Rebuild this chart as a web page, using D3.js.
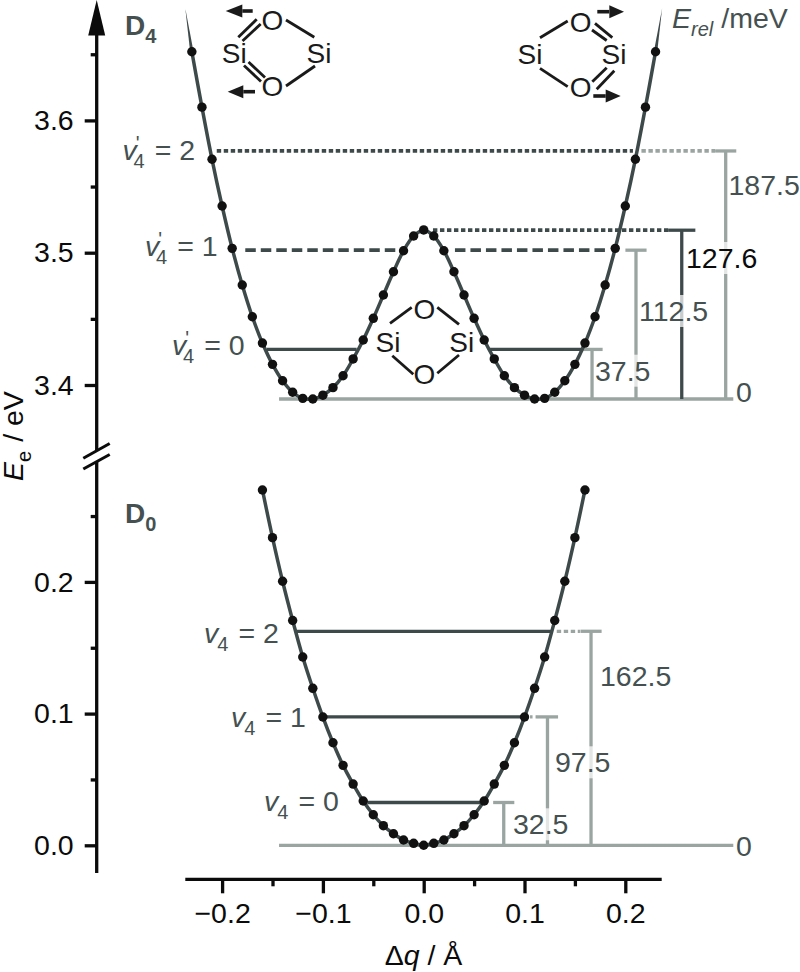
<!DOCTYPE html>
<html>
<head>
<meta charset="utf-8">
<style>
  html, body { margin: 0; padding: 0; background: #fff; }
  svg { display: block; }
  text { font-family: "Liberation Sans", Arial, sans-serif; }
</style>
<script src="https://cdn.jsdelivr.net/npm/d3@7/dist/d3.min.js"></script>
</head>
<body>
<svg id="chart" width="800" height="972"></svg>
<script>
// Displacement grid, Å, shared by both potential curves
const qD4 = [-0.23,-0.22,-0.21,-0.20,-0.19,-0.18,-0.17,-0.16,-0.15,-0.14,-0.13,-0.12,-0.11,-0.10,-0.09,-0.08,-0.07,-0.06,-0.05,-0.04,-0.03,-0.02,-0.01,0,
  0.01,0.02,0.03,0.04,0.05,0.06,0.07,0.08,0.09,0.10,0.11,0.12,0.13,0.14,0.15,0.16,0.17,0.18,0.19,0.20,0.21,0.22,0.23];
// Excited-state double well, eV
const eD4 = [3.6519,3.6100,3.5706,3.5353,3.5033,3.4756,3.4516,3.4317,3.4156,3.4032,3.3945,3.3899,3.3894,3.3923,3.3980,3.4070,3.4197,3.4340,3.4504,3.4680,3.4856,3.5015,3.5126,3.5172,
  3.5126,3.5015,3.4856,3.4680,3.4504,3.4340,3.4197,3.4070,3.3980,3.3923,3.3894,3.3899,3.3945,3.4032,3.4156,3.4317,3.4516,3.4756,3.5033,3.5353,3.5706,3.6100,3.6519];
// The D4 curve runs out to a fine point beyond the last sampled displacement
const tipD4 = { q: 0.2365, e: 3.6845 };

const qD0 = [-0.16,-0.15,-0.14,-0.13,-0.12,-0.11,-0.10,-0.09,-0.08,-0.07,-0.06,-0.05,-0.04,-0.03,-0.02,-0.01,0,
  0.01,0.02,0.03,0.04,0.05,0.06,0.07,0.08,0.09,0.10,0.11,0.12,0.13,0.14,0.15,0.16];
// Ground-state single well, eV
const eD0 = [0.2698,0.2336,0.2005,0.1707,0.1430,0.1192,0.0974,0.0779,0.0607,0.0465,0.0336,0.0232,0.0149,0.0088,0.0040,0.0015,0,
  0.0015,0.0040,0.0088,0.0149,0.0232,0.0336,0.0465,0.0607,0.0779,0.0974,0.1192,0.1430,0.1707,0.2005,0.2336,0.2698];

// Energy levels above each well minimum, meV
const d4Min = 3.3894;
const d0Min = 0;
const d4Levels = [37.5, 112.5, 127.6, 187.5];
const d0Levels = [32.5, 97.5, 162.5];

// Axis ticks
const xMajor = [-0.2, -0.1, 0, 0.1, 0.2];
const xMinor = [-0.15, -0.05, 0.05, 0.15];
const upperMajor = [3.4, 3.5, 3.6];
const upperMinor = [3.45, 3.55, 3.65];
const lowerMajor = [0, 0.1, 0.2];
const lowerMinor = [0.05, 0.15, 0.25];

const DARK = "#3e4a4a", GREY = "#9aa5a2", INK = "#455151", BLACK = "#0b0b0b", DOT = "#111";
const FS = 28.5;

const x = d3.scaleLinear().domain([-0.2, 0.2]).range([222.1, 625.3]);
const yU = d3.scaleLinear().domain([3.4, 3.6]).range([385, 120.4]);
const yL = d3.scaleLinear().domain([0, 0.2]).range([845.3, 581.9]);
const meVtoE = (min, mev) => min + mev / 1000;

const svg = d3.select("#chart");

// ---- axes ----
const AXW = 3.3;
const axisG = svg.append("g");
function tickAxis(axis, transform) {
  const g = axisG.append("g").attr("transform", transform).call(axis);
  g.select(".domain").remove();
  g.selectAll("line").attr("stroke", BLACK).attr("stroke-width", AXW);
  g.selectAll("text").attr("fill", BLACK).attr("font-size", FS).attr("font-family", "Liberation Sans");
  return g;
}
const yAxisX = 96.7, xAxisY = 879.3;
tickAxis(d3.axisLeft(yU).tickValues(upperMajor).tickSize(12).tickPadding(11).tickFormat(d3.format(".1f")), `translate(${yAxisX},0)`);
tickAxis(d3.axisLeft(yU).tickValues(upperMinor).tickSize(6).tickFormat(""), `translate(${yAxisX},0)`);
tickAxis(d3.axisLeft(yL).tickValues(lowerMajor).tickSize(12).tickPadding(11).tickFormat(d3.format(".1f")), `translate(${yAxisX},0)`);
tickAxis(d3.axisLeft(yL).tickValues(lowerMinor).tickSize(6).tickFormat(""), `translate(${yAxisX},0)`);
tickAxis(d3.axisBottom(x).tickValues(xMajor).tickSize(14).tickPadding(9).tickFormat(d3.format(".1f")), `translate(0,${xAxisY})`);
tickAxis(d3.axisBottom(x).tickValues(xMinor).tickSize(7).tickFormat(""), `translate(0,${xAxisY})`);

const rule = (x1, y1, x2, y2, color, w, dash) => svg.append("line")
  .attr("x1", x1).attr("y1", y1).attr("x2", x2).attr("y2", y2)
  .attr("stroke", color).attr("stroke-width", w).attr("stroke-dasharray", dash || null);

rule(yAxisX, 30, yAxisX, 450, BLACK, AXW);
rule(yAxisX, 462, yAxisX, 873, BLACK, AXW);
rule(185.3, xAxisY, 661.7, xAxisY, BLACK, AXW);
svg.append("polygon").attr("points", `${yAxisX},0 ${yAxisX - 8.5},35.5 ${yAxisX + 8.5},35.5`).attr("fill", BLACK);
// axis break marks
rule(83.3, 458.3, 109.7, 443.5, BLACK, 3);
rule(83.3, 469, 109.7, 454.5, BLACK, 3);

// ---- energy levels ----
const LW = 3.3, BROKEN = 3.7;
const DOTTED = "4.4 2.6", DASHED = "10.5 5";
const uy = m => yU(meVtoE(d4Min, m));
const ly = m => yL(meVtoE(d0Min, m));

// baselines of both wells
rule(x(-0.1435), uy(0), 733.3, uy(0), GREY, LW);
rule(x(-0.1435), ly(0), 733.3, ly(0), GREY, LW);

// D4 levels
rule(x(-0.1555), uy(37.5), x(-0.0665), uy(37.5), DARK, LW);
rule(x(0.0658), uy(37.5), x(0.158), uy(37.5), DARK, LW);
rule(x(-0.177), uy(112.5), x(-0.022), uy(112.5), DARK, BROKEN, DASHED);
rule(x(0.031), uy(112.5), x(0.1847), uy(112.5), DARK, BROKEN, DASHED);
rule(x(0.0092), uy(127.6), x(0.2425), uy(127.6), DARK, BROKEN, DOTTED);
rule(x(-0.2053), uy(187.5), x(0.2076), uy(187.5), DARK, BROKEN, DOTTED);
rule(x(0.216), uy(187.5), x(0.289), uy(187.5), GREY, BROKEN, DOTTED);

// D0 levels
rule(x(-0.126), ly(162.5), x(0.127), ly(162.5), DARK, LW);
rule(x(0.132), ly(162.5), x(0.155), ly(162.5), GREY, LW, DOTTED);
rule(x(-0.1), ly(97.5), x(0.1), ly(97.5), DARK, LW);
rule(x(0.1055), ly(97.5), x(0.1125), ly(97.5), GREY, LW, "2.5 3");
rule(x(-0.056), ly(32.5), x(0.06), ly(32.5), DARK, LW);

// brackets from each level down to the baseline
const bracket = (q, half, yTop, yBase, color) => {
  rule(x(q), yTop, x(q), yBase, color, LW);
  rule(x(q - half), yTop, x(q + half), yTop, color, LW);
};
bracket(0.1670, 0.0, uy(37.5), uy(0), GREY);
rule(x(0.158), uy(37.5), x(0.1775), uy(37.5), GREY, LW);
bracket(0.2106, 0.0105, uy(112.5), uy(0), GREY);
bracket(0.2560, 0.0135, uy(127.6), uy(0), DARK);
bracket(0.2996, 0.0105, uy(187.5), uy(0), GREY);
bracket(0.1660, 0.0105, ly(162.5), ly(0), GREY);
bracket(0.1228, 0.0105, ly(97.5), ly(0), GREY);
bracket(0.0794, 0.0105, ly(32.5), ly(0), GREY);

// ---- value labels, each on a pale plate that veils the bar behind it ----
function valueLabel(txt, px, py, color) {
  const t = svg.append("text").attr("x", px).attr("y", py).attr("font-size", FS).attr("fill", color || INK).text(txt);
  const b = t.node().getBBox();
  svg.insert("rect", () => t.node()).attr("x", b.x).attr("y", b.y).attr("width", b.width).attr("height", b.height)
    .attr("fill", "#fff").attr("opacity", 0.72);
}
valueLabel("187.5", 728.5, 195);
valueLabel("127.6", 686, 268, BLACK);
valueLabel("112.5", 639, 321);
valueLabel("37.5", 595, 380.7);
valueLabel("0", 736, 401.7);
valueLabel("162.5", 600, 685.7);
valueLabel("97.5", 555, 772.3);
valueLabel("32.5", 513, 834.3);
valueLabel("0", 736, 856);

// ---- potential curves ----
const curveLine = yScale => d3.line()
  .x(d => x(d[0])).y(d => yScale(d[1])).curve(d3.curveCatmullRom);

function drawCurve(qs, es, yScale) {
  const pts = d3.zip(qs, es);
  svg.append("path").datum(pts).attr("d", curveLine(yScale))
    .attr("fill", "none").attr("stroke", DARK).attr("stroke-width", 3.5);
  svg.append("g").selectAll("circle").data(pts).join("circle")
    .attr("cx", d => x(d[0])).attr("cy", d => yScale(d[1])).attr("r", 4.7).attr("fill", DOT);
}
// tapered ends of the D4 curve
[-1, 1].forEach(side => {
  const qEnd = side * qD4[qD4.length - 1], eEnd = eD4[eD4.length - 1];
  const px = x(qEnd), py = yU(eEnd);
  svg.append("polygon")
    .attr("points", `${x(side * tipD4.q)},${yU(tipD4.e)} ${px - 1.7},${py} ${px + 1.7},${py}`)
    .attr("fill", DARK);
});
drawCurve(qD4, eD4, yU);
drawCurve(qD0, eD0, yL);

// ---- state labels ----
function stateLabel(main, sub, px, py) {
  const t = svg.append("text").attr("x", px).attr("y", py).attr("fill", INK)
    .attr("font-size", 28).attr("font-weight", "bold");
  t.append("tspan").text(main);
  t.append("tspan").attr("font-size", 20).attr("dy", 8).text(sub);
}
stateLabel("D", "4", 125, 35);
stateLabel("D", "0", 125, 523);

function vibLabel(primed, val, px, py) {
  const t = svg.append("text").attr("x", px).attr("y", py).attr("fill", INK).attr("font-size", FS);
  t.append("tspan").attr("font-style", "italic").text("v");
  if (primed) {
    t.append("tspan").attr("font-size", 20).attr("dx", -1).attr("dy", -10).text("'");
    t.append("tspan").attr("font-size", 20).attr("dx", -6).attr("dy", 18).text("4");
  } else {
    t.append("tspan").attr("font-size", 20).attr("dx", -1).attr("dy", 8).text("4");
  }
  t.append("tspan").attr("dy", -8).attr("dx", 10).text("= " + val);
}
vibLabel(true, 2, 122.5, 160);
vibLabel(true, 1, 145, 256);
vibLabel(true, 0, 172, 355);
vibLabel(false, 2, 204, 643);
vibLabel(false, 1, 231, 727);
vibLabel(false, 0, 264, 810.7);

// relative energy scale heading
const rel = svg.append("text").attr("x", 672).attr("y", 28).attr("font-size", FS).attr("fill", INK);
rel.append("tspan").attr("font-style", "italic").text("E");
rel.append("tspan").attr("font-style", "italic").attr("font-size", 20).attr("dy", 8).text("rel");
rel.append("tspan").attr("dy", -8).attr("dx", 8).text("/meV");

// axis titles
const yTitle = svg.append("text").attr("transform", "translate(22.5,481) rotate(-90)")
  .attr("font-size", FS).attr("fill", BLACK);
yTitle.append("tspan").attr("font-style", "italic").text("E");
yTitle.append("tspan").attr("font-size", 20).attr("dy", 8).text("e");
yTitle.append("tspan").attr("dy", -8).attr("dx", 9).text("/ eV");

const xTitle = svg.append("text").attr("x", 423.5).attr("y", 965).attr("text-anchor", "middle")
  .attr("font-size", FS).attr("fill", BLACK);
xTitle.append("tspan").text("Δ");
xTitle.append("tspan").attr("font-style", "italic").text("q");
xTitle.append("tspan").text(" / Å");

// ---- Si2O2 ring sketches ----
const MOL = "#1a1a1a";
function ring(atoms, bonds) {
  atoms.forEach(([sym, ax, ay]) => svg.append("text").attr("x", ax).attr("y", ay)
    .attr("dy", "0.36em").attr("text-anchor", "middle").attr("font-size", 28).attr("fill", MOL).text(sym));
  bonds.forEach(b => rule(b[0], b[1], b[2], b[3], MOL, 2.8));
}
function arrow(xTail, xBase, xTip, ay) {
  rule(xTail, ay, xBase, ay, MOL, 3.6);
  svg.append("polygon").attr("points", `${xTip},${ay} ${xBase},${ay - 6.5} ${xBase},${ay + 6.5}`).attr("fill", MOL);
}
ring(
  [["O", 272.5, 20], ["Si", 234.3, 53.3], ["Si", 319, 53.3], ["O", 272.5, 85.5]],
  [[286, 20, 314.3, 37.3], [315, 66, 286, 86],
   [238.3, 37.3, 256.7, 19.3], [242.5, 41, 260.7, 24],
   [244, 65.5, 261, 81.5], [248.5, 62, 265, 77.5]]
);
arrow(252.7, 242.3, 225.7, 11);
arrow(255, 243.3, 227.7, 91.7);

ring(
  [["O", 580.7, 21.7], ["Si", 530, 54], ["Si", 614, 54], ["O", 580.7, 87.3]],
  [[540, 37.7, 567.7, 21], [540, 68.3, 567.7, 86.7],
   [592, 30, 606.7, 40.5], [595, 23.3, 612.3, 37.7],
   [592.3, 81.7, 606.7, 67.7], [596.7, 89.3, 614.3, 70.7]]
);
arrow(597.3, 609.3, 624, 11.7);
arrow(593.3, 605.7, 620.7, 96);

ring(
  [["O", 424.3, 309.3], ["Si", 388, 341.7], ["Si", 461.7, 341.7], ["O", 424.3, 374]],
  [[390, 323.3, 411.7, 307.3], [437.3, 307.3, 459, 324.3],
   [392.3, 355.7, 413.3, 374.3], [437.3, 373.3, 459, 355]]
);
</script>
</body>
</html>
